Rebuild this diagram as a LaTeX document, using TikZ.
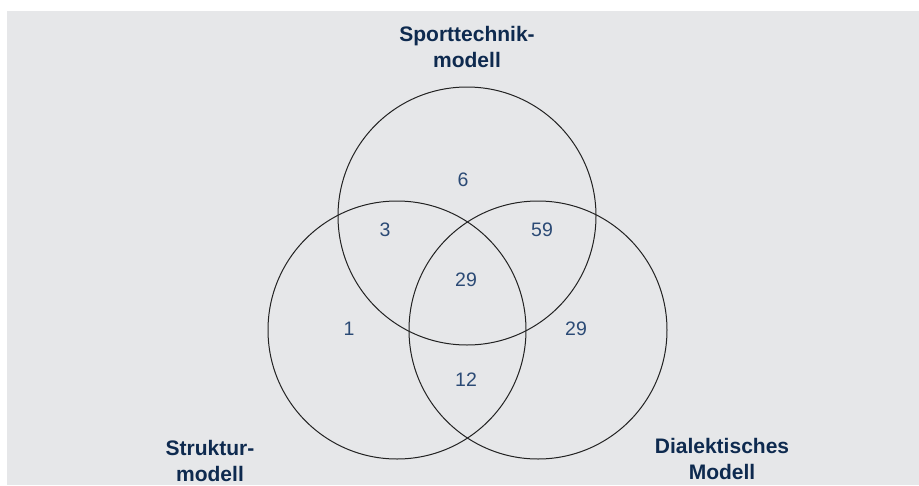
\documentclass[tikz,border=0pt]{standalone}
\usepackage{fontspec}
\setmainfont{Liberation Sans}
\definecolor{bgc}{HTML}{E6E7E9}
\definecolor{lab}{HTML}{0E2A4F}
\definecolor{num}{HTML}{2B4A75}
\definecolor{ring}{HTML}{222222}
\begin{document}
\begin{tikzpicture}[x=1pt,y=-1pt,
  setc/.style={circle,draw=ring,line width=1pt,minimum size=258pt,inner sep=0pt},
  lbl/.style={font=\fontsize{21}{25.5}\selectfont\bfseries,text=lab,align=center,inner sep=0pt},
  cnt/.style={font=\fontsize{19.5}{22}\selectfont,text=num,inner sep=0pt}]
\useasboundingbox (0,0) rectangle (919,485);
\fill[bgc] (7,11) rectangle (919,485);
\node[setc] (top) at (467,216) {};
\node[setc] (left) at (397,330) {};
\node[setc] (right) at (538,330) {};
\node[lbl] (ltop) at (467,47) {Sporttechnik-\\modell};
\node[lbl] (lleft) at (210,461) {Struktur-\\modell};
\node[lbl] (lright) at (722,459) {Dialektisches\\Modell};
\node[cnt] (n6) at (463,180) {6};
\node[cnt] (n3) at (385,230) {3};
\node[cnt] (n59) at (542,230) {59};
\node[cnt] (n29c) at (466,280) {29};
\node[cnt] (n1) at (349,329) {1};
\node[cnt] (n29r) at (576,329) {29};
\node[cnt] (n12) at (466,380) {12};
\end{tikzpicture}
\end{document}
